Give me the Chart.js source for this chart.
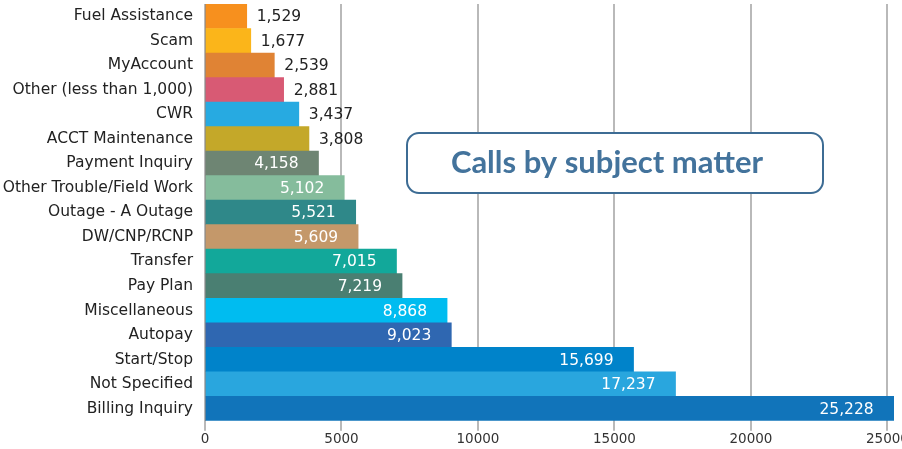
<!DOCTYPE html>
<html>
<head>
<meta charset="utf-8">
<script src="https://cdn.jsdelivr.net/npm/chart.js@4"></script>
<style>
  body { margin: 0; background: #fff; }
  #wrap { width: 902px; height: 449px; position: relative; }
</style>
</head>
<body>
<div id="wrap"><canvas id="callsChart"></canvas></div>
<script>
// calls by subject
var subjects = ["Fuel Assistance", "Scam", "MyAccount", "Other (less than 1,000)", "CWR",
  "ACCT Maintenance", "Payment Inquiry", "Other Trouble/Field Work", "Outage - A Outage",
  "DW/CNP/RCNP", "Transfer", "Pay Plan", "Miscellaneous", "Autopay", "Start/Stop",
  "Not Specified", "Billing Inquiry"];
var calls = [1529, 1677, 2539, 2881, 3437, 3808, 4158, 5102, 5521, 5609, 7015, 7219,
  8868, 9023, 15699, 17237, 25228];
var barColors = ["#f7901e", "#fbb51a", "#e08334", "#d85a74", "#27aae1", "#c4a829",
  "#6e8573", "#85bc9c", "#2f8889", "#c4986a", "#12a89a", "#4a7f72", "#00bcf0",
  "#2f67b1", "#0083ca", "#29a6de", "#1174ba"];
var xTicks = [0, 5000, 10000, 15000, 20000, 25000];

var FONT = "'DejaVu Sans', sans-serif";

// value labels: outside for small bars, white inside for the rest
const valueLabels = {
  id: "valueLabels",
  afterDatasetsDraw(chart) {
    const ctx = chart.ctx;
    const meta = chart.getDatasetMeta(0);
    ctx.save();
    ctx.font = "15.5px " + FONT;
    ctx.textBaseline = "middle";
    meta.data.forEach((bar, i) => {
      const v = calls[i];
      const txt = v.toLocaleString("en-US");
      if (v < 4000) {
        ctx.fillStyle = "#222";
        ctx.textAlign = "left";
        ctx.fillText(txt, bar.x + 10, bar.y + 1);
      } else {
        ctx.fillStyle = "#fff";
        ctx.textAlign = "right";
        ctx.fillText(txt, bar.x - 20, bar.y + 1);
      }
    });
    ctx.restore();
  }
};

// rounded title box in the middle of the plot
const titleBox = {
  id: "titleBox",
  afterDraw(chart) {
    const ctx = chart.ctx;
    ctx.save();
    ctx.beginPath();
    ctx.roundRect(407, 133, 416, 60, 12);
    ctx.fillStyle = "#fff";
    ctx.fill();
    ctx.lineWidth = 2;
    ctx.strokeStyle = "#3d6c94";
    ctx.stroke();
    ctx.font = "bold 31px Lato, sans-serif";
    ctx.fillStyle = "#43739c";
    ctx.textAlign = "center";
    ctx.textBaseline = "alphabetic";
    ctx.fillText("Calls by subject matter", 607, 173);
    ctx.restore();
  }
};

new Chart("callsChart", {
  type: "bar",
  data: {
    labels: subjects,
    datasets: [{
      data: calls,
      backgroundColor: barColors,
      barPercentage: 1,
      categoryPercentage: 1,
      borderWidth: 0
    }]
  },
  options: {
    indexAxis: "y",
    responsive: true,
    maintainAspectRatio: false,
    animation: false,
    layout: { padding: { top: 4, right: 5, bottom: 0, left: 0 } },
    plugins: {
      legend: { display: false },
      tooltip: { enabled: false }
    },
    scales: {
      x: {
        min: 0,
        max: 25350,
        afterBuildTicks: (scale) => { scale.ticks = xTicks.map(v => ({ value: v })); },
        afterFit: (scale) => { scale.paddingRight = 0; scale.paddingLeft = 0; },
        grid: { color: "#b9b9b9", lineWidth: 2, drawTicks: true, tickLength: 10 },
        border: { display: false },
        ticks: {
          color: "#333",
          font: { family: FONT, size: 13.5 },
          padding: 1,
          maxRotation: 0,
          callback: (v) => String(v)
        }
      },
      y: {
        afterFit: (scale) => { scale.width = 205; scale.paddingTop = 0; scale.paddingBottom = 0; },
        grid: { display: false, drawTicks: false },
        border: { display: true, color: "#8a8a8a", width: 1 },
        ticks: {
          color: "#222",
          font: { family: FONT, size: 15.5 },
          padding: 12,
          autoSkip: false
        }
      }
    }
  },
  plugins: [valueLabels, titleBox]
});
</script>
</body>
</html>
